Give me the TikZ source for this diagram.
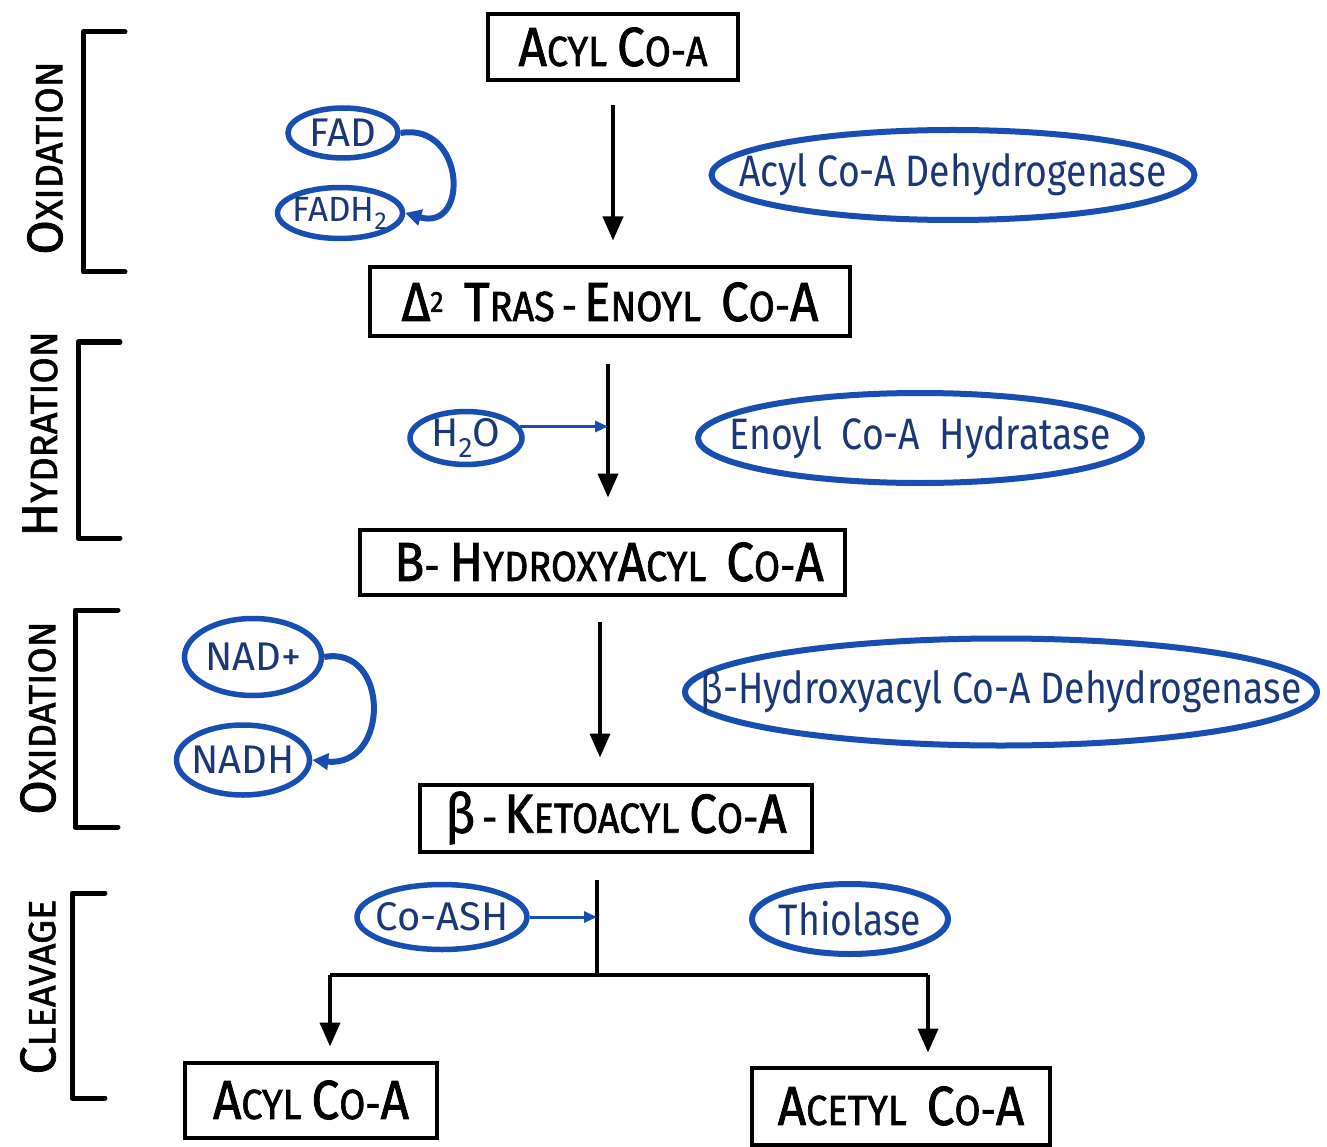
\documentclass[tikz,border=0pt]{standalone}
\usepackage{fontspec}
\setmainfont{Fira Sans}
\newfontfamily\handfont[FakeStretch=0.85]{Fira Sans}
\newfontfamily\cofont{Fira Sans}
\newfontfamily\capfont[FakeStretch=0.9,FakeBold=1.5]{Fira Sans}
\newfontfamily\lblfont[FakeBold=1.5]{Fira Sans}
\usetikzlibrary{shapes.geometric,arrows.meta}
\definecolor{inkblue}{RGB}{22,78,178}
\definecolor{txtblue}{RGB}{28,55,120}
\newcommand\BL{\fontsize{55}{55}\selectfont}
\newcommand\SL{\fontsize{42}{42}\selectfont}
\newcommand\LB{\fontsize{50}{50}\selectfont}
\newcommand\LS{\fontsize{38}{38}\selectfont}
\tikzset{
  stagebox/.style={draw=black, line width=4pt, inner sep=0pt, font=\capfont\SL},
  enzyme/.style={ellipse, draw=inkblue, line width=6pt, inner sep=0pt},
  etext/.style={text=txtblue, inner sep=0pt, font=\handfont\fontsize{44}{44}\selectfont},
  cofac/.style={ellipse, draw=inkblue, line width=5.5pt, inner sep=0pt},
  ctext/.style={text=txtblue, inner sep=0pt, font=\cofont\fontsize{40}{40}\selectfont},
  mainarr/.style={line width=4pt, -{Triangle[length=24pt,width=20pt]}},
  plainline/.style={line width=4pt},
  bluearr/.style={draw=inkblue, line width=3pt, -{Triangle[length=13pt,width=11pt]}},
  curvarr/.style={draw=inkblue, line width=6pt, -{Triangle[length=16pt,width=16pt]}},
  bracket/.style={line width=5pt, line cap=round, line join=round},
  stagelabel/.style={rotate=90, font=\lblfont\LS}
}
\begin{document}
\begin{tikzpicture}[x=1pt,y=-1pt]
\useasboundingbox[fill=white] (0,0) rectangle (1327,1147);

% brackets and labels
\draw[bracket] (125,32) -- (83,32) -- (83,272) -- (125,272);
\node[stagelabel] (l1) at (45,158) {{\LB O}XIDATION};
\draw[bracket] (120,342) -- (78,342) -- (78,538) -- (120,538);
\node[stagelabel] (l2) at (40,434) {{\LB H}YDRATION};
\draw[bracket] (118,610) -- (75,610) -- (75,827) -- (118,827);
\node[stagelabel] (l3) at (38,718) {{\LB O}XIDATION};
\draw[bracket] (105,893) -- (72,893) -- (72,1098) -- (105,1098);
\node[stagelabel] (l4) at (38,987) {{\LB C}LEAVAGE};

% main boxes
\node[stagebox, minimum width=250, minimum height=66] (b1) at (613,47) {{\BL A}CYL {\BL C}O-A};
\node[stagebox, minimum width=480, minimum height=69] (b2) at (610,302) {{\BL Δ}\textsuperscript{2}\ \ {\BL T}RAS\,-\,{\BL E}NOYL\ \ {\BL C}O-{\BL A}};
\node[stagebox, minimum width=485, minimum height=65] (b3) at (602,562) {\hspace*{14pt}{\BL B}- {\BL H}YDROXY{\BL A}CYL\ \ {\BL C}O-{\BL A}};
\node[stagebox, minimum width=392, minimum height=67] (b4) at (616,818) {{\BL β}\,-\,{\BL K}ETOACYL\ {\BL C}O-{\BL A}};
\node[stagebox, minimum width=252, minimum height=75] (b5) at (311,1100) {{\BL A}CYL {\BL C}O-{\BL A}};
\node[stagebox, minimum width=298, minimum height=77] (b6) at (901,1106) {{\BL A}CETYL\ \ {\BL C}O-{\BL A}};

% enzymes
\node[enzyme, minimum width=483, minimum height=90, label={[etext]center:Acyl Co-A Dehydrogenase}] (e1) at (953,175) {};
\node[enzyme, minimum width=444, minimum height=90, label={[etext]center:Enoyl\ \ Co-A\ \ Hydratase}] (e2) at (920,438) {};
\node[enzyme, minimum width=632, minimum height=107, label={[etext]center:β-Hydroxyacyl\ Co-A\ Dehydrogenase}] (e3) at (1001,692) {};
\node[enzyme, minimum width=196, minimum height=70, label={[etext]center:Thiolase}] (e4) at (850,919) {};

% cofactors
\node[cofac, minimum width=110, minimum height=50, label={[ctext]center:FAD}] (fad) at (343,133) {};
\node[cofac, minimum width=125, minimum height=51, label={[ctext, font=\cofont\fontsize{35}{35}\selectfont]center:FADH\textsubscript{2}}] (fadh) at (340,213) {};
\node[cofac, minimum width=112, minimum height=53, label={[ctext]center:H\textsubscript{2}O}] (h2o) at (466,438) {};
\node[cofac, minimum width=137, minimum height=77, label={[ctext]center:NAD+}] (nad) at (253,657) {};
\node[cofac, minimum width=133, minimum height=70, label={[ctext]center:NADH}] (nadh) at (243,760) {};
\node[cofac, minimum width=170, minimum height=65, label={[ctext]center:Co-ASH}] (coash) at (442,917) {};

% main arrows
\draw[mainarr, shorten <=23pt, shorten >=25pt] (b1.south) -- (b1.south |- b2.north);
\draw[mainarr, shorten <=25pt, shorten >=30pt] ([xshift=-2pt]b2.south) -- ([xshift=-2pt]b2.south |- b3.north);
\coordinate (j2) at (608,420);
\draw[bluearr] (h2o.12) -- (h2o.12 -| j2);
\draw[mainarr, shorten <=25pt, shorten >=25pt] ([xshift=-2pt]b3.south) -- ([xshift=-2pt]b3.south |- b4.north);

% cleavage
\coordinate (split) at (597,975);
\coordinate (leftc) at (330,975);
\coordinate (rightc) at (928,975);
\draw[plainline] ([xshift=-19pt]b4.south) ++(0,26) -- (split);
\draw[plainline] (leftc) -- (rightc);
\draw[mainarr, shorten >=14pt] (leftc) -- (leftc |- b5.north);
\draw[mainarr, shorten >=13pt] (rightc) -- (rightc |- b6.north);
\draw[bluearr] (coash.east) -- (coash.east -| split);

% recycling curves
\draw[curvarr] (fad.east) .. controls (465,122) and (470,232) .. (fadh.east);
\draw[curvarr] (nad.east) .. controls (390,645) and (390,768) .. (nadh.east);
\end{tikzpicture}
\end{document}
